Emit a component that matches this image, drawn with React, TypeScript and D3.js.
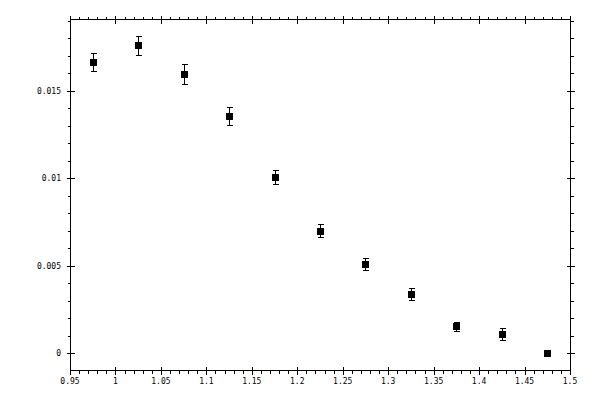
import * as d3 from "d3";

// bin centres and measured values
const binCentres = [0.975, 1.025, 1.075, 1.125, 1.175, 1.225, 1.275, 1.325, 1.375, 1.425, 1.475];
const values = [0.01664, 0.01761, 0.01595, 0.01355, 0.01006, 0.00698, 0.00509, 0.00337, 0.00152, 0.00109, 0];
const errors = [0.00054, 0.00054, 0.00058, 0.0005, 0.0004, 0.00037, 0.00033, 0.00034, 0.00024, 0.00036, 0];

const xTicks = [0.95, 1, 1.05, 1.1, 1.15, 1.2, 1.25, 1.3, 1.35, 1.4, 1.45, 1.5];
const xTickLabels = ["0.95", "1", "1.05", "1.1", "1.15", "1.2", "1.25", "1.3", "1.35", "1.4", "1.45", "1.5"];
const yTicks = [0, 0.005, 0.01, 0.015];
const yTickLabels = ["0", "0.005", "0.01", "0.015"];

const width = 600;
const height = 400;
const left = 70;
const right = 570;
const top = 19;
const bottom = 370;

const font = "'DejaVu Sans Mono', monospace";

const App = () => {
    const xScale = d3.scaleLinear().domain([0.95, 1.5]).range([left, right]);
    const yScale = d3.scaleLinear().domain([-0.00097, 0.0191]).range([bottom, top]);

    const px = (v: number) => Math.round(xScale(v)) + 0.5;
    const py = (v: number) => Math.round(yScale(v)) + 0.5;

    // minor ticks every 0.01 in x, every 0.001 in y
    const xMinor = d3.range(0, 56).map((i) => 0.95 + i * 0.01).filter((v) => v <= 1.5001);
    const yMinor = d3.range(0, 20).map((i) => i * 0.001);

    const L = left + 0.5;
    const R = right + 0.5;
    const T = top + 0.5;
    const B = bottom + 0.5;

    return (
        <div style={{ position: "fixed", left: 0, top: 0 }}>
            <svg width={width} height={height} viewBox={`0 0 ${width} ${height}`} style={{ display: "block", background: "#fff" }}>
                <g stroke="#000" strokeWidth={1} shapeRendering="crispEdges" fill="none">
                    {/* frame */}
                    <rect x={L} y={T} width={R - L} height={B - T} />

                    {/* x minor ticks, outward */}
                    {xMinor.map((v, i) => (
                        <g key={"xm" + i}>
                            <line x1={px(v)} x2={px(v)} y1={B} y2={B + 3} />
                            <line x1={px(v)} x2={px(v)} y1={T} y2={T - 3} />
                        </g>
                    ))}
                    {/* x major ticks, crossing */}
                    {xTicks.map((v, i) => (
                        <g key={"xM" + i}>
                            <line x1={px(v)} x2={px(v)} y1={B - 4} y2={B + 4} />
                            <line x1={px(v)} x2={px(v)} y1={T - 4} y2={T + 4} />
                        </g>
                    ))}

                    {/* y minor ticks */}
                    {yMinor.map((v, i) => (
                        <g key={"ym" + i}>
                            <line x1={L} x2={L - 3} y1={py(v)} y2={py(v)} />
                            <line x1={R} x2={R + 3} y1={py(v)} y2={py(v)} />
                        </g>
                    ))}
                    {yTicks.map((v, i) => (
                        <g key={"yM" + i}>
                            <line x1={L - 4} x2={L + 4} y1={py(v)} y2={py(v)} />
                            <line x1={R - 4} x2={R + 4} y1={py(v)} y2={py(v)} />
                        </g>
                    ))}
                </g>

                {/* tick labels */}
                <g fontFamily={font} fontSize={8} fill="#000">
                    {xTicks.map((v, i) => (
                        <text key={"xl" + i} x={xScale(v)} y={bottom + 14} textAnchor="middle">
                            {xTickLabels[i]}
                        </text>
                    ))}
                    {yTicks.map((v, i) => (
                        <text key={"yl" + i} x={left - 9} y={yScale(v) + 3} textAnchor="end">
                            {yTickLabels[i]}
                        </text>
                    ))}
                </g>

                {/* error bars */}
                <g stroke="#000" strokeWidth={1} shapeRendering="crispEdges">
                    {binCentres.map((c, i) =>
                        errors[i] > 0 ? (
                            <g key={"e" + i}>
                                <line x1={px(c)} x2={px(c)} y1={py(values[i] + errors[i])} y2={py(values[i] - errors[i])} />
                                <line x1={px(c) - 3} x2={px(c) + 3} y1={py(values[i] + errors[i])} y2={py(values[i] + errors[i])} />
                                <line x1={px(c) - 3} x2={px(c) + 3} y1={py(values[i] - errors[i])} y2={py(values[i] - errors[i])} />
                            </g>
                        ) : null
                    )}
                </g>

                {/* markers */}
                <g fill="#000" shapeRendering="crispEdges">
                    {binCentres.map((c, i) => (
                        <rect key={"m" + i} x={Math.round(xScale(c)) - 3} y={Math.round(yScale(values[i])) - 3} width={7} height={7} />
                    ))}
                </g>
            </svg>
        </div>
    );
};

export default App;
